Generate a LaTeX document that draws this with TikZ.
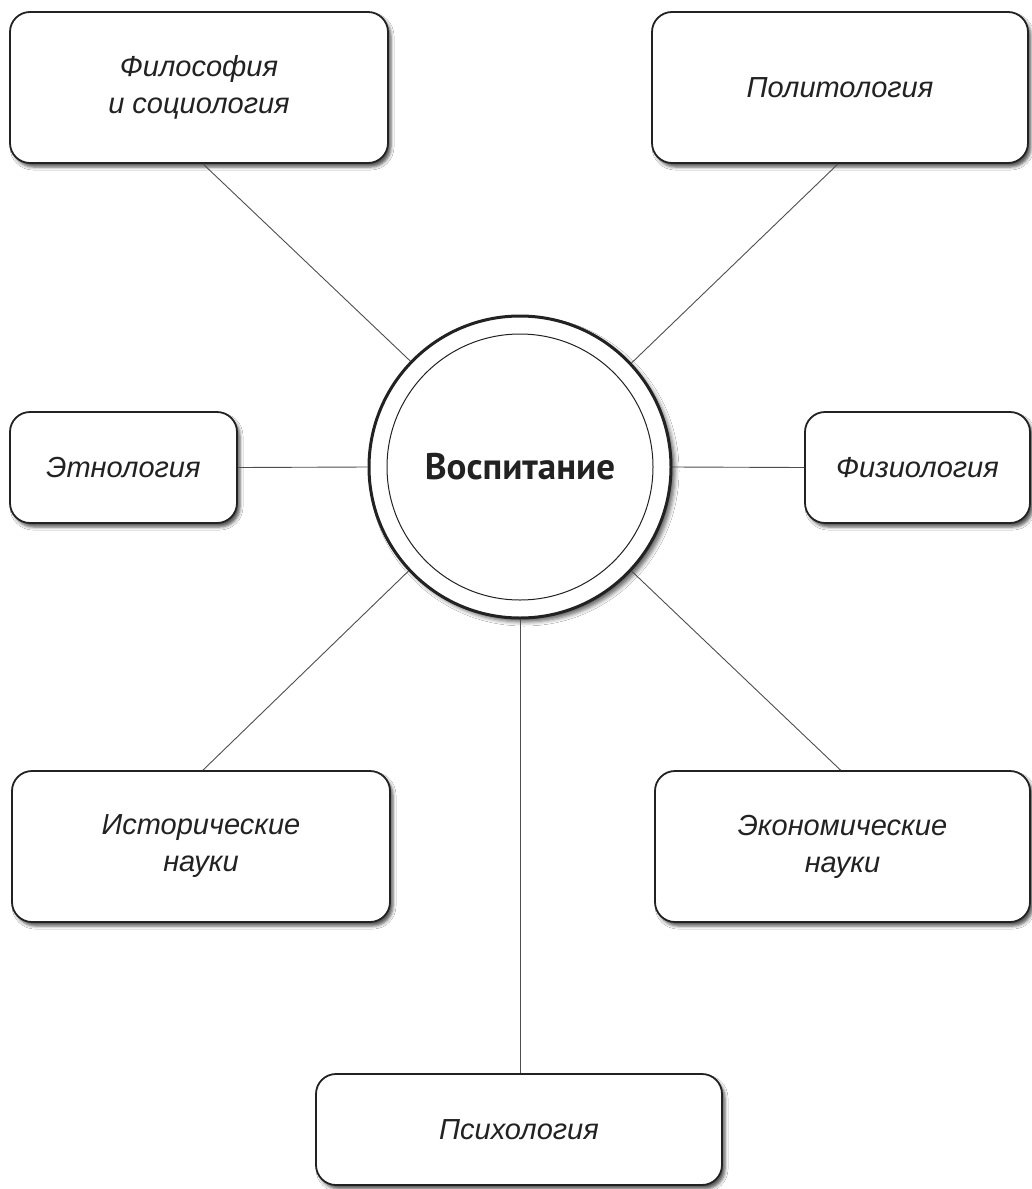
\documentclass[tikz,border=0pt]{standalone}
\usepackage{fontspec}
\setmainfont{Liberation Sans}
\newfontfamily\headfont{PT Sans}
\usetikzlibrary{shadows.blur,calc}
\definecolor{ink}{HTML}{222222}
\begin{document}
\begin{tikzpicture}[x=1pt,y=-1pt,
  box/.style={draw=ink, line width=1.8pt, rounded corners=20pt, fill=white,
    text=ink, align=center, inner sep=0pt,
    font=\fontsize{29}{37}\selectfont\itshape,
    blur shadow={shadow xshift=3pt, shadow yshift=-4pt, shadow blur radius=3pt, shadow opacity=65}},
  conn/.style={draw=ink!80, line width=0.9pt}]
\useasboundingbox (0,0) rectangle (1032,1189);
\fill[white] (0,0) rectangle (1032,1189);

\node[circle, draw=ink, line width=3pt, fill=white, minimum size=302pt, inner sep=0pt,
  blur shadow={shadow xshift=4pt, shadow yshift=-4pt, shadow blur radius=4pt, shadow opacity=60}] (c) at (520,467) {};
\node[circle, draw=ink, line width=1pt, minimum size=266pt, inner sep=0pt,
  font=\headfont\bfseries\fontsize{37}{42}\selectfont, text=ink] (ci) at (520,467) {Воспитание};

\node[box, minimum width=378pt, minimum height=151pt] (phil) at (199,87.5) {Философия\\и социология};
\node[box, minimum width=376pt, minimum height=151pt] (polit) at (840,87.5) {Политология};
\node[box, minimum width=227pt, minimum height=111pt] (ethn) at (123.5,467.5) {Этнология};
\node[box, minimum width=225pt, minimum height=111pt] (phys) at (917.5,467.5) {Физиология};
\node[box, minimum width=378pt, minimum height=151pt] (hist) at (201,846.5) {Исторические\\науки};
\node[box, minimum width=375pt, minimum height=151pt] (econ) at (842.5,846.5) {Экономические\\науки};
\node[box, minimum width=406pt, minimum height=111pt] (psych) at (519,1129.5) {Психология};

\draw[conn] ($(phil.south)+(4,0)$) -- (c.136.5);
\draw[conn] ($(polit.south)+(-2,0)$) -- (c.43.6);
\draw[conn] (ethn.east) -- (c.west);
\draw[conn] (phys.west) -- (c.east);
\draw[conn] ($(hist.north)+(2,0)$) -- (c.223.6);
\draw[conn] ($(econ.north)+(-2,0)$) -- (c.-43.5);
\draw[conn] (psych.north -| c.south) -- (c.south);
\end{tikzpicture}
\end{document}
